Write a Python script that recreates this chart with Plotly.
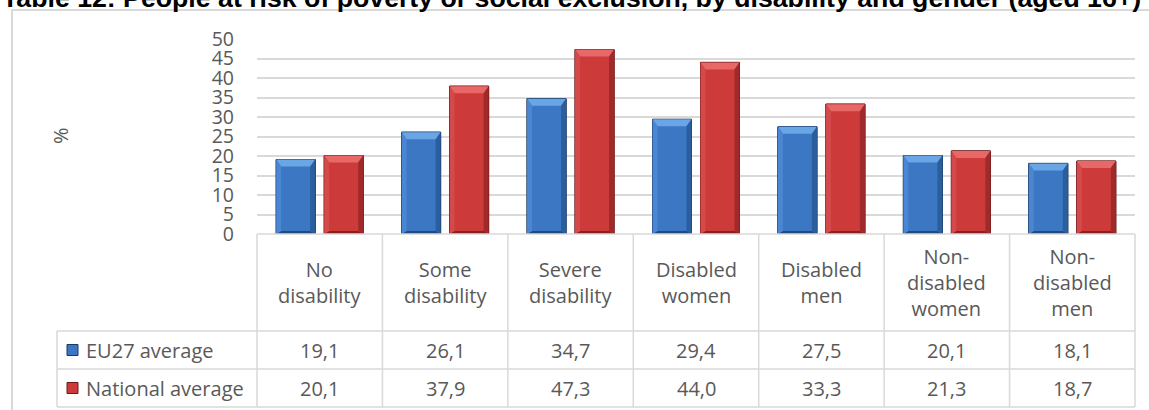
import plotly.graph_objects as go

# ---- data -------------------------------------------------------------
categories = ["No disability", "Some disability", "Severe disability",
              "Disabled women", "Disabled men", "Non-disabled women",
              "Non-disabled men"]
header_labels = ["No<br>disability", "Some<br>disability", "Severe<br>disability",
                 "Disabled<br>women", "Disabled<br>men", "Non-<br>disabled<br>women",
                 "Non-<br>disabled<br>men"]
series_names = ["EU27 average", "National average"]
eu27 = [19.1, 26.1, 34.7, 29.4, 27.5, 20.1, 18.1]
national = [20.1, 37.9, 47.3, 44.0, 33.3, 21.3, 18.7]
y_ticks = [0, 5, 10, 15, 20, 25, 30, 35, 40, 45, 50]

title_text = ("Table 12: People at risk of poverty or social exclusion, "
              "by disability and gender (aged 16+)")

# ---- layout geometry (pixels) ------------------------------------------
W, H = 1149, 410
PL, PR, PT, PB = 257, 1135, 39, 234          # plot area edges
ROW_HDR_BOTTOM, ROW1_BOTTOM, ROW2_BOTTOM = 331, 369, 407
TABLE_LEFT = 57

GRID = "#d9d9d9"
TXT = "#595959"
FONT = "Open Sans, Calibri, sans-serif"
TABLE_SIZE = 20

n = len(categories)
xs = list(range(n))
px_per_x = (PR - PL) / n
px_per_y = (PB - PT) / 50.0


def px(p):
    return (p - PL) / (PR - PL)


def py(p):
    return (PB - p) / (PB - PT)


BAR_W = 39 / px_per_x
SHIFT = 24 / px_per_x

styles = {
    "EU27 average": dict(face="#3b77c3", top="#6aa6e6", left="#4a86d2",
                         right="#2b5e9c", bottom="#23497e", edge="#1b3a63"),
    "National average": dict(face="#cd3a3a", top="#e86868", left="#d44a4a",
                             right="#a02a2a", bottom="#862222", edge="#6e1a1a"),
}

fig = go.Figure()

bs = 5 / px_per_x      # side bevel
bt = 7 / px_per_y      # top bevel
bb = 3 / px_per_y      # bottom bevel

for name, vals, sgn in [("EU27 average", eu27, -1), ("National average", national, 1)]:
    st = styles[name]
    centers = [x + sgn * SHIFT for x in xs]
    fig.add_trace(go.Bar(
        x=centers, y=vals, width=BAR_W, name=name, showlegend=False,
        marker=dict(color=st["face"], line=dict(color=st["edge"], width=1)),
        hoverinfo="skip"))
    # bevel facets
    facets = {"top": ([], []), "bottom": ([], []), "left": ([], []), "right": ([], [])}
    for c, v in zip(centers, vals):
        x0, x1 = c - BAR_W / 2, c + BAR_W / 2
        y0, y1 = 0, v
        ix0, ix1, iy0, iy1 = x0 + bs, x1 - bs, y0 + bb, y1 - bt
        polys = {
            "top": [(x0, y1), (x1, y1), (ix1, iy1), (ix0, iy1)],
            "bottom": [(x0, y0), (x1, y0), (ix1, iy0), (ix0, iy0)],
            "left": [(x0, y0), (x0, y1), (ix0, iy1), (ix0, iy0)],
            "right": [(x1, y0), (x1, y1), (ix1, iy1), (ix1, iy0)],
        }
        for k, pts in polys.items():
            fx, fy = facets[k]
            fx.extend([p[0] for p in pts] + [pts[0][0], None])
            fy.extend([p[1] for p in pts] + [pts[0][1], None])
    for k, (fx, fy) in facets.items():
        fig.add_trace(go.Scatter(
            x=fx, y=fy, mode="lines", fill="toself", fillcolor=st[k],
            line=dict(width=0), showlegend=False, hoverinfo="skip"))
    # thin outline on top
    fig.add_trace(go.Bar(
        x=centers, y=vals, width=BAR_W, showlegend=False, hoverinfo="skip",
        marker=dict(color="rgba(0,0,0,0)", line=dict(color=st["edge"], width=1))))

shapes = []
line = dict(color=GRID, width=1.5)
# outer chart border
shapes.append(dict(type="rect", xref="paper", yref="paper",
                   x0=px(12), x1=px(W + 20), y0=py(10), y1=py(H + 20),
                   line=dict(color=GRID, width=2)))
# data table grid
col_edges = [PL + i * px_per_x for i in range(n + 1)]
shapes.append(dict(type="line", xref="paper", yref="paper",
                   x0=px(PL), x1=px(PR), y0=py(PB), y1=py(PB), line=line))
for yy in (ROW_HDR_BOTTOM, ROW1_BOTTOM, ROW2_BOTTOM):
    shapes.append(dict(type="line", xref="paper", yref="paper",
                       x0=px(TABLE_LEFT), x1=px(PR), y0=py(yy), y1=py(yy), line=line))
shapes.append(dict(type="line", xref="paper", yref="paper",
                   x0=px(TABLE_LEFT), x1=px(TABLE_LEFT),
                   y0=py(ROW_HDR_BOTTOM), y1=py(ROW2_BOTTOM), line=line))
for ce in col_edges:
    shapes.append(dict(type="line", xref="paper", yref="paper",
                       x0=px(ce), x1=px(ce), y0=py(PB), y1=py(ROW2_BOTTOM), line=line))

# legend keys in the table
row_mid = [(ROW_HDR_BOTTOM + ROW1_BOTTOM) / 2, (ROW1_BOTTOM + ROW2_BOTTOM) / 2]
for name, ym in zip(series_names, row_mid):
    st = styles[name]
    shapes.append(dict(type="rect", xref="paper", yref="paper",
                       x0=px(67), x1=px(78), y0=py(ym - 5.5), y1=py(ym + 5.5),
                       fillcolor=st["face"], line=dict(color=st["edge"], width=1)))

annotations = []
annotations.append(dict(text="<b>" + title_text + "</b>", xref="paper", yref="paper",
                        x=px(0), y=py(-2), xanchor="left", yanchor="middle",
                        showarrow=False,
                        font=dict(family="Liberation Sans, Arial", size=26.7,
                                  color="#000000")))
annotations.append(dict(text="%", xref="paper", yref="paper", x=px(60), y=py(136),
                        xanchor="center", yanchor="middle",
                        textangle=-90, showarrow=False,
                        font=dict(family=FONT, size=20, color=TXT)))
hdr_mid = (PB + ROW_HDR_BOTTOM) / 2
for x, lab in zip(xs, header_labels):
    annotations.append(dict(text=lab, xref="x", yref="paper", x=x, y=py(hdr_mid),
                            xanchor="center", yanchor="middle",
                            showarrow=False, align="center",
                            font=dict(family=FONT, size=TABLE_SIZE, color=TXT)))
for vals, ym in zip([eu27, national], row_mid):
    for x, v in zip(xs, vals):
        annotations.append(dict(text=f"{v:.1f}".replace(".", ","), xref="x", yref="paper",
                                x=x, y=py(ym), xanchor="center", yanchor="middle",
                                showarrow=False,
                                font=dict(family=FONT, size=TABLE_SIZE, color=TXT)))
for name, ym in zip(series_names, row_mid):
    annotations.append(dict(text=name, xref="paper", yref="paper", x=px(84), y=py(ym),
                            xanchor="left", yanchor="middle", showarrow=False,
                            font=dict(family=FONT, size=TABLE_SIZE, color=TXT)))

fig.update_layout(
    width=W, height=H,
    margin=dict(l=PL, r=W - PR, t=PT, b=H - PB, pad=0),
    paper_bgcolor="white", plot_bgcolor="white",
    barmode="overlay", showlegend=False,
    shapes=shapes, annotations=annotations,
    xaxis=dict(range=[-0.5, n - 0.5], showticklabels=False, showgrid=False,
               zeroline=False, showline=False, fixedrange=True),
    yaxis=dict(range=[0, 50], tickvals=y_ticks, showgrid=True, gridcolor=GRID,
               gridwidth=1.5, zeroline=False, showline=False, ticks="",
               ticklabelstandoff=22,
               tickfont=dict(family=FONT, size=19.5, color=TXT)),
)

fig.write_html("out.html")
